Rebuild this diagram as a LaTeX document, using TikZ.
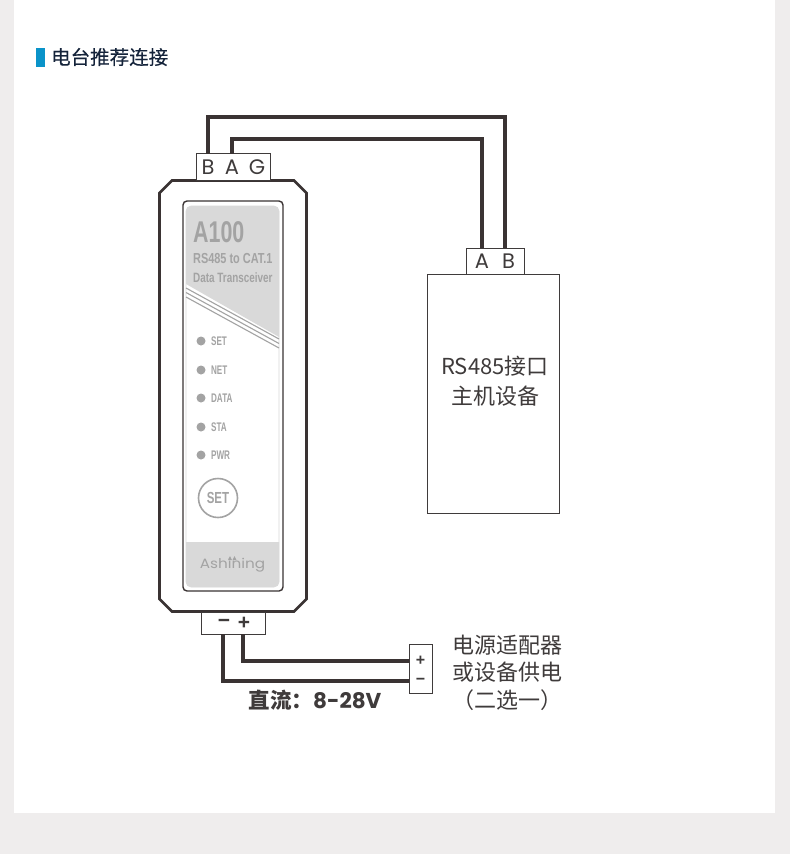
\documentclass[tikz,border=0pt]{standalone}
\usepackage{fontspec}
\setmainfont{Noto Sans CJK SC}
\newfontfamily\medfont[FakeBold=0.35]{Noto Sans CJK SC}
\newfontfamily\latinfont{Poppins}
\newfontfamily\narrowfont{Liberation Sans}
\definecolor{pagegray}{HTML}{EFEDED}
\definecolor{wirecol}{HTML}{3A3333}
\definecolor{inkcol}{HTML}{3F3B3B}
\definecolor{panelgray}{HTML}{D9D9D9}
\definecolor{printgray}{HTML}{A3A3A3}
\definecolor{barblue}{HTML}{0A93C9}
\definecolor{titlecol}{HTML}{14233A}
\tikzset{
  wire/.style={draw=wirecol,line width=3.4pt},
  box/.style={draw=inkcol,line width=1pt},
  pin/.style={inner sep=0pt,minimum width=23pt,minimum height=26pt,text=inkcol,font=\latinfont\fontsize{21}{24}\selectfont},
  sign/.style={pin,minimum width=18pt,minimum height=22.5pt,font=\narrowfont\bfseries\fontsize{21}{22}\selectfont},
  label/.style={text=inkcol,align=center,font=\fontsize{22}{27.5}\selectfont},
  silk/.style={text=printgray,inner sep=0pt,anchor=west,xscale=.65,font=\narrowfont\bfseries\fontsize{12.5}{14}\selectfont},
  led/.style={circle,fill=printgray,inner sep=0pt,minimum size=9pt},
}
\begin{document}
\begin{tikzpicture}[x=1pt,y=-1pt]
\useasboundingbox (0,0) rectangle (790,854);
\fill [pagegray] (0,0) rectangle (790,854);
\fill [white] (14,0) rectangle (775,813);

\fill [barblue] (36,48) rectangle (45,67);
\node (title) at (51,57) [anchor=west,inner sep=0pt,text=titlecol,font=\medfont\fontsize{19.5}{22}\selectfont] {电台推荐连接};

%device body
\draw [draw=wirecol,line width=2.8pt,fill=white] (172,180.5)--(294,180.5)--(306.5,193)--(306.5,599)--(294,611.5)--(172,611.5)--(159.5,599)--(159.5,193)--cycle;
\draw [draw=wirecol,line width=1.4pt,rounded corners=4pt] (183,201) rectangle (283,591);
\draw [draw=panelgray,line width=.6pt,rounded corners=5pt] (186,206) rectangle (279,587);
\fill [panelgray] (186,284)--(186,211) arc [radius=5,start angle=180,end angle=90,y radius=-5]--(274,206) arc [radius=5,start angle=90,end angle=0,y radius=-5]--(279,337)--cycle;
\fill [panelgray] (186,542)--(279,542)--(279,582) arc [radius=5,start angle=0,end angle=90]--(191,587) arc [radius=5,start angle=90,end angle=180]--cycle;
\foreach \dy in {288,292.5,297}
  \draw [printgray,line width=1.1pt] (186,\dy)--(279,\dy+51);

\node (model) at (193,232) [silk,xscale=1.1,font=\narrowfont\bfseries\fontsize{30}{32}\selectfont] {A100};
\node (rs) at (193,259) [silk,xscale=1.16,font=\narrowfont\bfseries\fontsize{14.5}{16}\selectfont] {RS485 to CAT.1};
\node (data) at (193,278) [silk,xscale=1.13,font=\narrowfont\bfseries\fontsize{13.5}{16}\selectfont] {Data Transceiver};

\foreach \y/\name in {341/SET,370/NET,398/DATA,427/STA,455/PWR}{
  \node (led\name) at (201,\y) [led] {};
  \node (txt\name) at (211,\y) [silk] {\name};
}
\node (setkey) at (218,498) [circle,draw=printgray,line width=1.6pt,minimum size=39pt,inner sep=0pt,text=printgray,font=\narrowfont\bfseries\fontsize{16}{17}\selectfont] {\scalebox{.72}[1]{SET}};
\node (brand) at (232.5,565) [xscale=1.13,text=printgray,inner sep=0pt,font=\latinfont\fontsize{13.5}{15}\selectfont] {Ashining};
\foreach \dx in {230,234.5}
  \fill [printgray] (\dx-2,560)--(\dx,556)--(\dx+2,560)--cycle;

%terminals
\draw [box,fill=white] (196,153.5) rectangle (270,180);
\node (tB) at (208,167) [pin] {B};
\node (tA) at (232,167) [pin] {A};
\node (tG) at (257,167) [pin] {G};

\draw [box] (201,612) rectangle (265,634);
\node (tM) at (223,623) [sign] {\hspace{2pt}\raisebox{-2.5pt}{−}};
\node (tP) at (243,623) [sign] {\hspace{2pt}\raisebox{-1pt}{+}};

\node (host) at (493.5,393.5) [box,minimum width=132pt,minimum height=239pt,inner sep=0pt] {};
\node (hosttxt) at (495,381) [label,font=\fontsize{22}{30}\selectfont] {RS485接口\\主机设备};
\draw [box] (466,248) rectangle (524,274);
\node (hA) at (482,261) [pin] {A};
\node (hB) at (505,261) [pin] {\hspace{7pt}B};

\node (supply) at (420.5,668.5) [box,minimum width=23pt,minimum height=49pt,inner sep=0pt] {};
\node (sP) at (420.5,661) [sign,minimum width=22pt,minimum height=18pt,font=\narrowfont\bfseries\fontsize{16}{17}\selectfont] {+};
\node (sM) at (420.5,681) [sign,minimum width=22pt,minimum height=18pt,font=\narrowfont\bfseries\fontsize{16}{17}\selectfont] {−};

%wires
\draw [wire] (tB.north) -- ++(0,-37) -| (hB.north);
\draw [wire] (tA.north) -- ++(0,-15) -| (hA.north);
\draw [wire] (tP.south) |- (sP.west);
\draw [wire] (tM.south) |- (sM.west);

\node (volt) at (315,700) [text=inkcol,inner sep=0pt,font=\bfseries\fontsize{21.5}{24}\selectfont] {直流：{\latinfont\bfseries 8-28V}};
\node (note) at (507,672.5) [label] {电源适配器\\或设备供电\\（二选一）};
\end{tikzpicture}
\end{document}
